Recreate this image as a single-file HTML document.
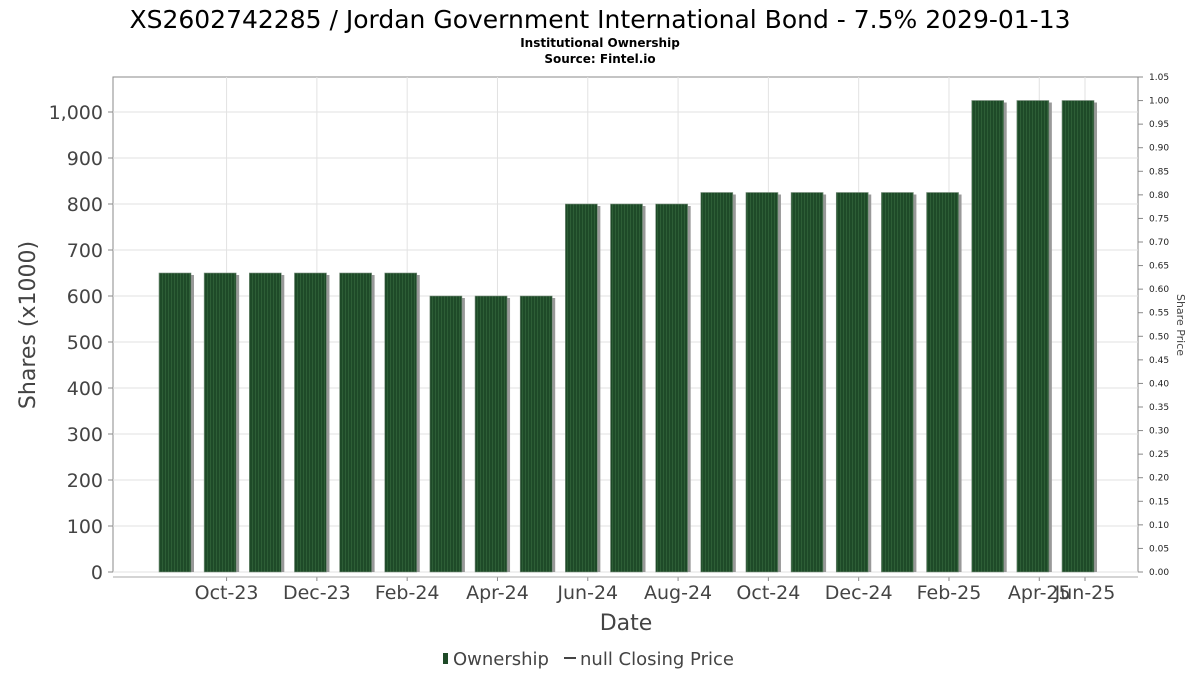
<!DOCTYPE html>
<html><head><meta charset="utf-8"><style>
body{margin:0;background:#fff;font-family:"DejaVu Sans","Liberation Sans",sans-serif;}
</style></head><body>
<svg id="chart" width="1200" height="675" xmlns="http://www.w3.org/2000/svg" font-family="DejaVu Sans, Liberation Sans, sans-serif">
<defs>
<pattern id="stripe" width="3" height="10" patternUnits="userSpaceOnUse">
<rect width="3" height="10" fill="#1e4a28"/><rect width="1" height="10" fill="#2d5e36"/>
</pattern>
</defs>
<text x="600" y="28" text-anchor="middle" font-size="25">XS2602742285 / Jordan Government International Bond - 7.5% 2029-01-13</text>
<text x="600" y="47" text-anchor="middle" font-size="12" font-weight="bold">Institutional Ownership</text>
<text x="600" y="63" text-anchor="middle" font-size="12" font-weight="bold">Source: Fintel.io</text>
<rect x="113" y="77" width="1025" height="495" fill="#fff" stroke="#888" stroke-width="1"/>
<g id="grid"></g><g id="bars"></g><g id="axes"></g>
<text transform="translate(35,325) rotate(-90)" text-anchor="middle" font-size="22" fill="#444">Shares (x1000)</text>
<text transform="translate(1177,325) rotate(90)" text-anchor="middle" font-size="11" fill="#444">Share Price</text>
<text x="626" y="630" text-anchor="middle" font-size="22" fill="#444">Date</text>
<g>
<rect x="443" y="653" width="5" height="11" fill="#1e4a28"/>
<text x="453" y="665" font-size="18" fill="#444">Ownership</text>
<line x1="564" y1="658" x2="576" y2="658" stroke="#444" stroke-width="2"/>
<text x="580" y="665" font-size="18" fill="#444">null Closing Price</text>
</g>
</svg>
<script>
const categories=["Sep-23","Oct-23","Nov-23","Dec-23","Jan-24","Feb-24","Mar-24","Apr-24","May-24","Jun-24","Jul-24","Aug-24","Sep-24","Oct-24","Nov-24","Dec-24","Jan-25","Feb-25","Mar-25","Apr-25","May-25"];
const shares=[650,650,650,650,650,650,600,600,600,800,800,800,825,825,825,825,825,825,1025,1025,1025];
const yTicks=[0,100,200,300,400,500,600,700,800,900,1000];
const y2Ticks=[0,0.05,0.1,0.15,0.2,0.25,0.3,0.35,0.4,0.45,0.5,0.55,0.6,0.65,0.7,0.75,0.8,0.85,0.9,0.95,1.0,1.05];
const xTickLabels=["Oct-23","Dec-23","Feb-24","Apr-24","Jun-24","Aug-24","Oct-24","Dec-24","Feb-25","Apr-25","Jun-25"];
const NS="http://www.w3.org/2000/svg";
const y=v=>572-v*0.46;
const y2=v=>572-v*(495/1.05);
const x=i=>182+(i-0.5)*45.15; // tick position in month index
const barX=i=>159+i*45.15;
function mk(t,a,p){const e=document.createElementNS(NS,t);for(const k in a)e.setAttribute(k,a[k]);p.appendChild(e);return e;}
const grid=document.getElementById('grid'),bars=document.getElementById('bars'),axes=document.getElementById('axes');
yTicks.forEach(v=>{
 const l=mk('line',{x1:113,x2:1138,y1:y(v),y2:y(v),stroke:'#e2e2e2'},grid);
 
 const tk=mk('line',{x1:108,x2:113,y1:y(v),y2:y(v),stroke:'#888'},axes);
 
 const t=mk('text',{x:103,y:y(v)+7,'text-anchor':'end','font-size':19,fill:'#444'},axes);
 
 t.textContent=v.toLocaleString('en-US');
});
y2Ticks.forEach(v=>{
 const tk=mk('line',{x1:1138,x2:1143,y1:y2(v),y2:y2(v),stroke:'#888'},axes);
 
 const t=mk('text',{x:1149,y:y2(v)+3,'font-size':9,fill:'#222'},axes);
 
 t.textContent=v.toFixed(2);
});
xTickLabels.forEach((lab,k)=>{
 const xi=categories.indexOf(lab);
 const px=xi>=0?x(xi)+22:182+k*90.3;
 const g=mk('line',{x1:px,x2:px,y1:77,y2:572,stroke:'#e2e2e2'},grid);
 
 const tk=mk('line',{x1:px,x2:px,y1:577,y2:581,stroke:'#888'},axes);
 
 const t=mk('text',{x:px,y:599,'text-anchor':'middle','font-size':19,fill:'#444'},axes);
 
 t.textContent=lab;
});
const ax=mk('line',{x1:113,x2:1138,y1:577,y2:577,stroke:'#aaa'},axes);

shares.forEach((v,i)=>{
 const bx=barX(i);
 const s=mk('rect',{x:bx+3,y:y(v)+2,width:32,height:572-y(v)-2,fill:'#999'},bars);
 
 const r=mk('rect',{x:bx,y:y(v),width:32,height:572-y(v),fill:'url(#stripe)',stroke:'#7a8f7e','stroke-width':0.6},bars);
 
});
</script>
</body></html>
